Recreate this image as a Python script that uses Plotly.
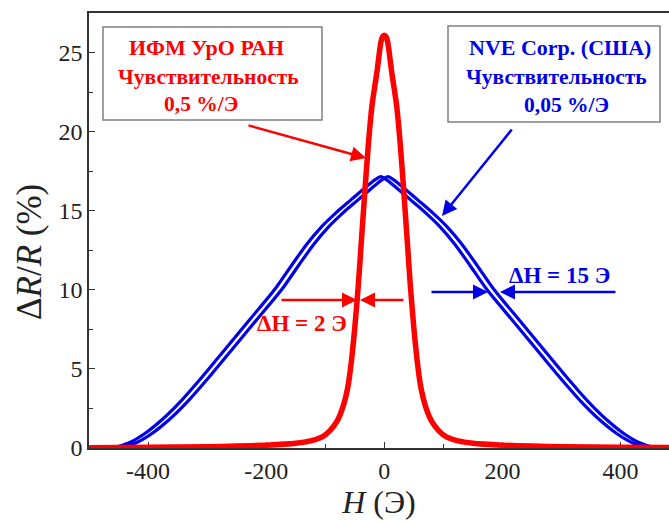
import numpy as np
import plotly.graph_objects as go

# ---------------- data ----------------
# Red sample (ИФМ УрО РАН): symmetric half-profile, H (Э) -> ΔR/R (%)
red_H_half = [0, 3, 6, 9, 12, 16, 21, 27, 33, 39, 44, 50, 56, 62, 70, 80, 92, 105, 125, 150, 200, 250, 300, 400, 500]
red_V_half = [26.1, 26.0, 25.6, 24.8, 23.9, 22.9, 21.6, 19.2, 16.2, 13.0, 10.3, 7.6, 5.4, 3.8, 2.6, 1.7, 1.1, 0.7, 0.45, 0.3, 0.18, 0.12, 0.08, 0.04, 0.02]

# Blue sample (NVE Corp.): half-profile, two branches shifted by the hysteresis
blue_H_half = [0, 10, 25, 50, 75, 100, 125, 150, 180, 220, 260, 300, 340, 370, 400, 425, 450, 470, 500]
blue_V_half = [17.15, 16.95, 16.5, 15.7, 14.9, 14.0, 12.9, 11.6, 10.0, 8.2, 6.4, 4.6, 2.9, 1.8, 0.9, 0.35, 0.05, 0.0, 0.0]
blue_shift = 6  # Э, half of the branch separation

x_ticks = [-400, -200, 0, 200, 400]
x_tick_text = ["-400", "-200", "0", "200", "400"]
y_ticks = [0, 5, 10, 15, 20, 25]

# ---------------- geometry helpers (pixel -> data) ----------------
X0, X1 = -500, 482
Y0, Y1 = 0, 27.5
L, R_, T, B = 89, 669, 13, 448
def hx(px):
    return X0 + (px - L) / (R_ - L) * (X1 - X0)
def vy(py):
    return Y0 + (B - py) / (B - T) * (Y1 - Y0)

def mirror(h, v):
    h = np.array(h, float); v = np.array(v, float)
    H = np.concatenate([-h[::-1], h[1:]])
    V = np.concatenate([v[::-1], v[1:]])
    return H, V

rH, rV = mirror(red_H_half, red_V_half)
bH, bV = mirror(blue_H_half, blue_V_half)

RED = "#ff0000"
BLUE = "#0000e6"
FONT = "'Liberation Serif', 'Times New Roman', Times, serif"

fig = go.Figure()
for s in (-blue_shift, blue_shift):
    fig.add_trace(go.Scatter(x=bH + s, y=bV, mode="lines",
                             line=dict(color=BLUE, width=3.2, shape="spline", smoothing=0.7),
                             showlegend=False, hoverinfo="skip"))
fig.add_trace(go.Scatter(x=rH, y=rV, mode="lines",
                         line=dict(color=RED, width=5.5, shape="spline", smoothing=0.6),
                         showlegend=False, hoverinfo="skip"))

# ---------------- boxes ----------------
fig.add_shape(type="rect", xref="x", yref="y",
              x0=hx(103), x1=hx(322), y0=vy(120), y1=vy(27),
              line=dict(color="#808080", width=1.5), fillcolor="white", layer="below")
fig.add_shape(type="rect", xref="x", yref="y",
              x0=hx(448), x1=hx(660), y0=vy(122), y1=vy(26),
              line=dict(color="#808080", width=1.5), fillcolor="white", layer="below")

def txt(s, px, py, color, size=21.5):
    fig.add_annotation(x=hx(px), y=vy(py), xref="x", yref="y", text="<b>" + s + "</b>",
                       showarrow=False, font=dict(family=FONT, size=size, color=color),
                       xanchor="center", yanchor="middle")

txt("ИФМ УрО РАН", 206, 47, RED, 22)
txt("Чувствительность", 208, 77, RED)
txt("0,5 %/Э", 201, 104, RED)
txt("NVE Corp. (США)", 560, 47, BLUE, 22)
txt("Чувствительность", 556, 77, BLUE)
txt("0,05 %/Э", 566, 105, BLUE)
txt("ΔH = 2 Э", 302, 323, RED, 23)
txt("ΔH = 15 Э", 559, 275, BLUE, 23)

def arrow(tx, ty, hx_px, hy_px, color, width=2.5, size=1.2):
    fig.add_annotation(x=hx(hx_px), y=vy(hy_px), ax=hx(tx), ay=vy(ty),
                       xref="x", yref="y", axref="x", ayref="y", text="",
                       showarrow=True, arrowhead=2, arrowsize=size, arrowwidth=width,
                       arrowcolor=color, standoff=0)

arrow(247, 125, 366, 158, RED)
arrow(513, 128, 442, 216, BLUE)
arrow(280, 300, 357, 300, RED)
arrow(405, 300, 360, 300, RED)
arrow(430, 292, 488, 292, BLUE)
arrow(617, 292, 500, 292, BLUE)

# y-axis title as a rotated annotation (paper coords are relative to the plot area)
fig.add_annotation(x=(29 - L) / (R_ - L), y=(B - 252) / (B - T), xref="paper", yref="paper",
                   text="Δ<i>R</i>/<i>R</i> (%)", textangle=-90, showarrow=False,
                   font=dict(family=FONT, size=35, color="#222222"),
                   xanchor="center", yanchor="middle")

axis_common = dict(showline=True, linecolor="#333333", linewidth=1.5, ticks="inside",
                   ticklen=6, tickwidth=1.2, tickcolor="#333333", showgrid=False,
                   zeroline=False, tickfont=dict(family=FONT, size=24, color="#222222"),
                   layer="below traces")

fig.update_xaxes(range=[X0, X1], tickvals=x_ticks, ticktext=x_tick_text, mirror=True,
                 minor=dict(dtick=100, ticks="inside", ticklen=4, tickcolor="#333333"),
                 title=dict(text="<i>H</i> (Э)", font=dict(family=FONT, size=32, color="#222222"),
                            standoff=8),
                 **axis_common)
fig.update_yaxes(range=[Y0, Y1], tickvals=y_ticks,
                 minor=dict(dtick=2.5, ticks="inside", ticklen=4, tickcolor="#333333"),
                 **axis_common)

fig.update_layout(width=669, height=521, margin=dict(l=L, r=669 - R_, t=T, b=521 - B),
                  plot_bgcolor="white", paper_bgcolor="white")

fig.write_html("out.html")
